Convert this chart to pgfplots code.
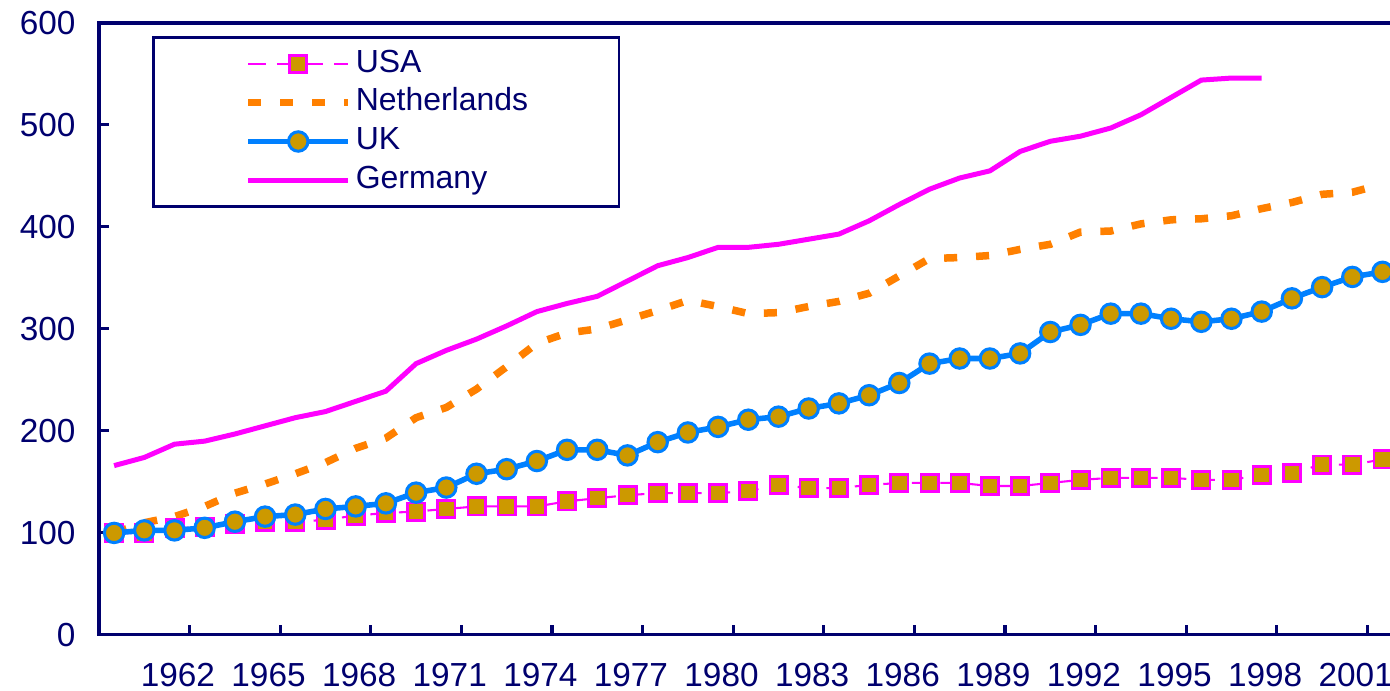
\documentclass[border=0pt]{standalone}
\usepackage{pgfplots}
\pgfplotsset{compat=1.18}
\usepackage{fontspec}
\setmainfont{Liberation Sans}
\definecolor{navy}{RGB}{0,0,110}
\definecolor{gold}{RGB}{204,153,0}
\definecolor{mag}{RGB}{255,0,255}
\definecolor{orng}{RGB}{255,128,0}
\definecolor{ukblue}{RGB}{0,128,255}
\begin{document}
\begin{tikzpicture}
\begin{axis}[
  scale only axis, width=467.5pt, height=220.3pt,
  xmin=1959.5, xmax=2002.5, ymin=0, ymax=600,
  axis line style={draw=navy, line width=1.1pt},
  xtick={1959.5,1962.5,...,2001.5},
  xticklabels={,1962,1965,1968,1971,1974,1977,1980,1983,1986,1989,1992,1995,1998,2001},
  minor x tick num=2,
  ytick={0,100,...,600},
  tick align=inside, xtick pos=bottom, ytick pos=left,
  major tick length=3.6pt, minor tick length=3.6pt,
  tick style={draw=navy, line width=1.1pt},
  /pgf/number format/assume math mode=true,
  tick label style={font=\fontsize{12}{14}\selectfont, text=navy},
  xticklabel style={inner sep=0pt, anchor=north, yshift=-10pt, xshift=-4.2pt},
  yticklabel style={inner sep=0pt, anchor=east, xshift=-8.3pt},
  legend style={at={(0.0408,0.9788)}, anchor=north west, draw=navy, line width=1pt,
    inner xsep=0pt, inner ysep=3.5pt, row sep=2pt, column sep=1.4pt,
    font=\fontsize{11.5}{14}\selectfont, text=navy,
    nodes={inner sep=0pt, text width=94.7pt, text height=9pt, text depth=3pt, align=left}},
  legend cell align=left,
  legend image code/.code={\path (0pt,0pt);
    \draw[mark repeat=2,mark phase=2,#1] plot coordinates {(32.8pt,0pt) (50.8pt,0pt) (68.8pt,0pt)};},
]
\addplot[mag, line width=0.75pt, dash pattern=on 6.3pt off 4pt, mark=square*, mark size=3.1pt,
  mark options={solid, fill=gold, draw=mag, line width=1pt}] coordinates {
(1960,100) (1961,99.5) (1962,105) (1963,105.5) (1964,108.5) (1965,110.5) (1966,110.5) (1967,113)
(1968,117) (1969,119.5) (1970,121) (1971,123.5) (1972,126) (1973,126) (1974,126) (1975,131)
(1976,134) (1977,137) (1978,139) (1979,139) (1980,139) (1981,141) (1982,147) (1983,144)
(1984,144) (1985,147) (1986,149) (1987,149) (1988,149) (1989,146) (1990,146) (1991,149)
(1992,152) (1993,154) (1994,154) (1995,154) (1996,152) (1997,152) (1998,157) (1999,159)
(2000,167) (2001,167) (2002,172)};
\addlegendentry{USA}
\addplot[orng, line width=2.7pt, dash pattern=on 4.7pt off 6.8pt] coordinates {
(1960,100) (1961,110) (1962,116) (1963,126) (1964,139) (1965,148) (1966,158) (1967,169)
(1968,183) (1969,193) (1970,213) (1971,223) (1972,241) (1973,263) (1974,286) (1975,296)
(1976,300) (1977,309) (1978,318) (1979,328) (1980,322) (1981,315) (1982,316) (1983,322)
(1984,327) (1985,335) (1986,352) (1987,369) (1988,370) (1989,372) (1990,378) (1991,383)
(1992,395) (1993,396) (1994,403) (1995,407) (1996,408) (1997,411) (1998,418) (1999,424)
(2000,432) (2001,434) (2002,442)};
\addlegendentry{Netherlands}
\addplot[ukblue, line width=2pt, mark=*, mark size=3.5pt,
  mark options={fill=gold, draw=ukblue, line width=1.1pt}] coordinates {
(1960,100) (1961,102.5) (1962,102.5) (1963,105) (1964,111) (1965,116) (1966,118) (1967,123.5)
(1968,126) (1969,129) (1970,139.5) (1971,144.5) (1972,158) (1973,162.5) (1974,170.5) (1975,181.5)
(1976,181.5) (1977,176) (1978,189) (1979,198.5) (1980,204) (1981,211) (1982,214) (1983,222)
(1984,227) (1985,235) (1986,247) (1987,266) (1988,271) (1989,271) (1990,276) (1991,297)
(1992,304) (1993,315) (1994,315) (1995,310) (1996,307) (1997,310) (1998,317) (1999,330)
(2000,341) (2001,351) (2002,356)};
\addlegendentry{UK}
\addplot[mag, line width=1.8pt] coordinates {
(1960,166) (1961,174) (1962,187) (1963,190) (1964,197) (1965,205) (1966,213) (1967,219)
(1968,229) (1969,239) (1970,266) (1971,279) (1972,290) (1973,303) (1974,317) (1975,325)
(1976,332) (1977,347) (1978,362) (1979,370) (1980,380) (1981,380) (1982,383) (1983,388)
(1984,393) (1985,406) (1986,422) (1987,437) (1988,448) (1989,455) (1990,474) (1991,484)
(1992,489) (1993,497) (1994,510) (1995,527) (1996,544) (1997,546) (1998,546)};
\addlegendentry{Germany}
\coordinate (O) at (rel axis cs:0,0);
\coordinate (T) at (rel axis cs:0,1);
\end{axis}
\pgfresetboundingbox
\useasboundingbox ([xshift=-35.64pt,yshift=-20.16pt]O) rectangle ([xshift=464.76pt,yshift=8.28pt]T);
\end{tikzpicture}
\end{document}
